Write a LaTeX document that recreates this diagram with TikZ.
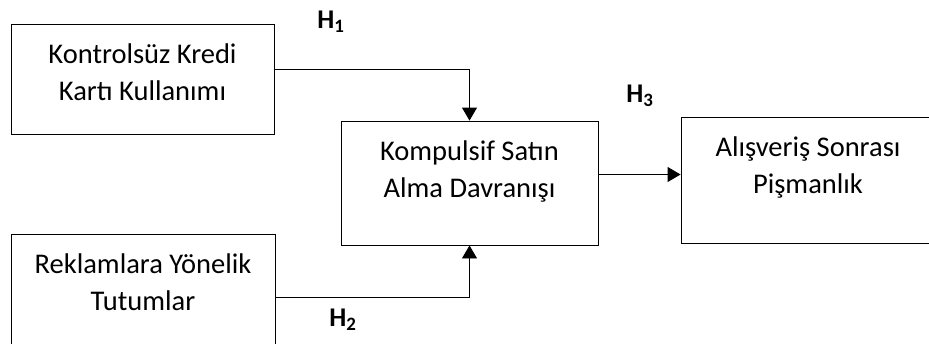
\documentclass[tikz,border=0pt]{standalone}
\usepackage{fontspec}
\setmainfont{Carlito}
\usetikzlibrary{arrows.meta}
\tikzset{
  box/.style={draw, line width=0.9pt, inner sep=0pt},
  boxtext/.style={anchor=north, align=center, inner sep=0pt, yshift=-20pt,
    font=\fontsize{28.5}{37}\selectfont},
  arr/.style={line width=0.9pt, -{Triangle[length=13pt,width=15pt]}},
  hyp/.style={font=\fontsize{27}{30}\selectfont\bfseries}
}
\begin{document}
\begin{tikzpicture}[x=1pt, y=-1pt]
\useasboundingbox (0,0) rectangle (929,343);
\clip (0,0) rectangle (929,343);
% boxes
\node[box, minimum width=263pt, minimum height=110pt,
  label={[boxtext]north:Kontrolsüz Kredi\\Kartı Kullanımı}] (kredi) at (142.5,79) {};
\node[box, minimum width=264pt, minimum height=127pt,
  label={[boxtext]north:Reklamlara Yönelik\\Tutumlar}] (reklam) at (143,297.5) {};
\node[box, minimum width=257pt, minimum height=124pt,
  label={[boxtext]north:Kompulsif Satın\\Alma Davranışı}] (kompulsif) at (469.5,183) {};
\node[box, minimum width=254pt, minimum height=126pt,
  label={[boxtext]north:Alışveriş Sonrası\\Pişmanlık}] (alisveris) at (808,180) {};
% arrows
\draw[arr] ([yshift=10pt]kredi.east) -| (kompulsif.north);
\draw[arr] (reklam.east) -| (kompulsif.south);
\coordinate (c3) at ([yshift=8.5pt]kompulsif.east);
\draw[arr] (c3) -- (c3 -| alisveris.west);
% hypotheses
\node[hyp] (h1) at (331,22) {H\textsubscript{1}};
\node[hyp] (h2) at (343,320) {H\textsubscript{2}};
\node[hyp] (h3) at (640,96) {H\textsubscript{3}};
\end{tikzpicture}
\end{document}
